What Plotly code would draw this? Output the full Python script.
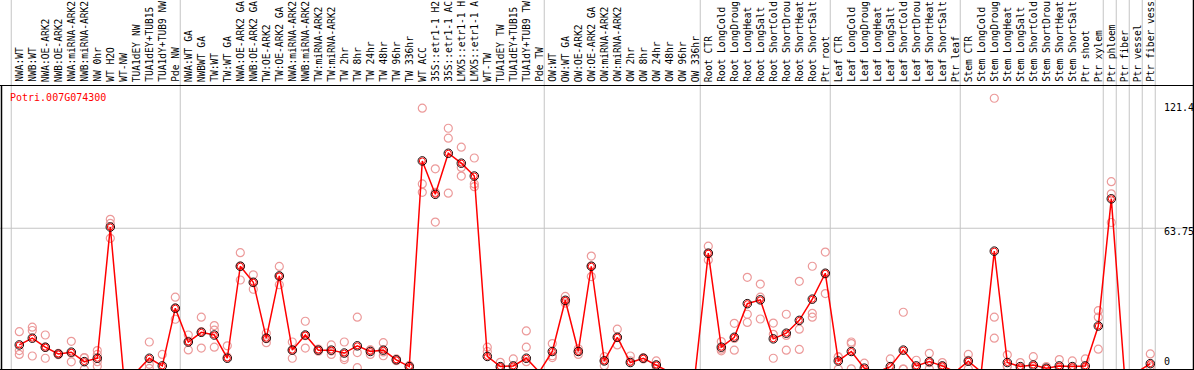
import plotly.graph_objects as go

categories = [
    "NWA:WT", "NWB:WT", "NWA:OE-ARK2", "NWB:OE-ARK2", "NWA:miRNA-ARK2", "NWB:miRNA-ARK2",
    "NW 0hr", "WT H2O", "WT-NW", "TUA1dEY NW", "TUA1dEY+TUB15", "TUA1dY+TUB9 NW", "Pde NW",
    "NWA:WT GA", "NWBWT GA", "TW:WT", "TW:WT GA", "NWA:OE-ARK2 GA", "NWB:OE-ARK2 GA",
    "TW:OE-ARK2", "TW:OE-ARK2 GA", "NWA:miRNA-ARK2", "NWB:miRNA-ARK2", "TW:miRNA-ARK2",
    "TW:miRNA-ARK2", "TW 2hr", "TW 8hr", "TW 24hr", "TW 48hr", "TW 96hr", "TW 336hr",
    "WT ACC", "35S::etr1-1 H2", "35S::etr1-1 AC", "LMX5::etr1-1 H", "LMX5::etr1-1 A",
    "WT-TW", "TUA1dEY TW", "TUA1dEY+TUB15", "TUA1dY+TUB9 TW", "Pde TW",
    "OW:WT", "OW:WT GA", "OW:OE-ARK2", "OW:OE-ARK2 GA", "OW:miRNA-ARK2", "OW:miRNA-ARK2",
    "OW 2hr", "OW 8hr", "OW 24hr", "OW 48hr", "OW 96hr", "OW 336hr",
    "Root CTR", "Root LongCold", "Root LongDroug", "Root LongHeat", "Root LongSalt",
    "Root ShortCold", "Root ShortDrou", "Root ShortHeat", "Root ShortSalt", "Ptr root",
    "Leaf CTR", "Leaf LongCold", "Leaf LongDroug", "Leaf LongHeat", "Leaf LongSalt",
    "Leaf ShortCold", "Leaf ShortDrou", "Leaf ShortHeat", "Leaf ShortSalt", "Ptr leaf",
    "Stem CTR", "Stem LongCold", "Stem LongDroug", "Stem LongHeat", "Stem LongSalt",
    "Stem ShortCold", "Stem ShortDrou", "Stem ShortHeat", "Stem ShortSalt", "Ptr shoot",
    "Ptr xylem", "Ptr phloem", "Ptr fiber", "Ptr vessel", "Ptr fiber vess",
]

mean_values = [
    12.0, 15.0, 11.0, 8.0, 8.8, 4.6, 6.1, 64.3, 0, 0,
    6.1, 2.7, 28.3, 13.3, 17.6, 16.4, 6.1, 46.9, 39.8, 15.0,
    42.6, 9.7, 16.4, 9.7, 9.7, 8.4, 11.6, 9.1, 9.7, 5.4,
    2.4, 93.6, 78.8, 97.0, 92.6, 86.9, 6.9, 2.4, 2.7, 6.1,
    0, 9.1, 31.8, 9.1, 46.9, 4.9, 15.4, 4.2, 6.1, 3.1,
    0, 0, 0, 52.7, 11.0, 15.4, 30.3, 32.0, 14.7, 17.2,
    22.9, 32.3, 43.8, 4.9, 9.1, 1.7, 0, 2.4, 9.7, 2.7,
    4.6, 2.7, 0, 4.8, 0, 53.6, 4.2, 2.4, 3.1, 1.7,
    2.7, 2.4, 2.7, 20.4, 76.8, 0, 0, 3.7,
]

replicates = [
    [17.9, 9.5, 7.8], [19.9, 18.4, 7.1], [16.4, 10.9, 6.1], [7.7, 8.0, 8.3],
    [13.6, 4.5, 8.3], [6.4, 1.2, 6.2], [9.5, 7.8, 4.6, 2.5], [67.7, 59.3, 65.9],
    [0, 0, 0], [0, 0, 0], [13.3, 3.4, 1.6], [7.8, 0.3, 0],
    [33.2, 23.4, 28.3], [16.4, 9.8, 13.7], [24.3, 10.6, 17.9], [20.6, 18.6, 11.0],
    [11.6, 0, 6.7], [52.9, 40.8, 47.0], [43.1, 36.7, 39.6], [17.2, 13.0, 14.8],
    [46.8, 38.7, 42.3], [13.3, 6.1, 9.7], [22.5, 10.6, 16.1], [9.2, 9.7, 10.2],
    [12.0, 7.8, 9.3], [13.3, 5.5, 6.4], [24.3, 8.6, 1.9], [9.8, 7.8, 9.7],
    [13.0, 7.2, 8.9], [5.0, 5.8, 5.4], [1.8, 2.9, 2.5], [117.0, 83.4, 79.7],
    [90.1, 79.7, 66.5], [108.1, 103.7, 79.3], [99.7, 90.7, 86.9], [94.9, 83.4, 82.2],
    [11.0, 9.1, 0.6], [4.3, 1.9, 1.0], [5.8, 1.5, 0.8], [18.2, 11.0, 4.6, 0, 0, 0],
    [0, 0, 0], [12.6, 7.2, 6.4], [33.5, 31.4, 30.5], [10.3, 7.8, 9.2],
    [51.4, 42.3, 47.0], [6.8, 2.8, 5.1], [19.0, 12.0, 15.2], [7.1, 0.5, 5.0],
    [5.8, 6.3, 6.2], [4.9, 3.1, 1.3], [0, 0, 0], [0, 0, 0],
    [0, 0, 0], [55.8, 49.7, 52.6], [13.5, 9.4, 10.1], [21.6, 9.7, 14.9],
    [42.0, 25.6, 22.0], [39.0, 33.2, 23.5], [21.7, 16.7, 6.1], [25.6, 16.2, 9.7],
    [40.2, 19.0, 10.0], [46.9, 26.0, 24.3], [53.2, 34.8, 43.4], [6.7, 1.3, 6.7],
    [13.3, 1.4, 12.6], [3.9, 0.6, 0.6], [0, 0, 0], [5.8, 0.7, 0.7],
    [26.5, 1.3, 1.3], [5.2, 1.5, 1.4], [8.3, 1.4, 4.1], [4.2, 1.4, 2.5],
    [0, 0, 0], [7.8, 1.4, 5.2], [0, 0, 0], [121.4, 24.3, 15.0],
    [7.6, 2.5, 2.5], [4.2, 1.5, 1.5], [6.8, 2.4, 0.1], [2.4, 1.5, 1.2],
    [5.5, 1.4, 1.2], [4.9, 1.5, 0.8], [5.8, 1.5, 0.8], [27.2, 24.3, 10.1],
    [84.4, 79.0, 66.3], [0, 0, 0], [0, 0, 0], [8.0, 2.4, 0.7],
]

group_starts = [0, 13, 41, 53, 63, 73, 84, 85, 86, 87, 88]
y_tick_labels = ["121.4", "63.75", "0"]
y_tick_values = [121.4, 63.75, 0]
gene_id = "Potri.007G074300"

W, H = 1194, 370
TOP = 85  # pixel top of plot area
X0 = -19.3 / 13.0
X1 = X0 + W / 13.0
Y_ZERO_PX = 372.0
Y_SCALE = 2.255
Y_LO = (Y_ZERO_PX - H) / Y_SCALE
Y_HI = (Y_ZERO_PX - TOP) / Y_SCALE


def py(p):
    return (H - p) / (H - TOP)


def px(p):
    return p / W


xs = list(range(len(categories)))

rep_x, rep_y = [], []
for i, reps in enumerate(replicates):
    for v in reps:
        rep_x.append(i)
        rep_y.append(v)

fig = go.Figure()
fig.add_trace(go.Scatter(
    x=rep_x, y=rep_y, mode="markers",
    marker=dict(symbol="circle-open", size=8, color="#ec9a9a", line=dict(width=1.2)),
    cliponaxis=False, showlegend=False, hoverinfo="skip"))
fig.add_trace(go.Scatter(
    x=xs, y=mean_values, mode="lines",
    line=dict(color="#ff0000", width=1.5),
    cliponaxis=False, showlegend=False))
fig.add_trace(go.Scatter(
    x=xs, y=mean_values, mode="markers",
    marker=dict(symbol="circle-open", size=8.5, color="#1a0000", line=dict(width=1.0)),
    cliponaxis=False, showlegend=False))
fig.add_trace(go.Scatter(
    x=xs, y=mean_values, mode="markers",
    marker=dict(symbol="circle-open", size=6, color="#ff0000", line=dict(width=1)),
    cliponaxis=False, showlegend=False))

shapes = []
for g in group_starts:
    shapes.append(dict(type="line", xref="x", yref="paper", x0=g - 0.62, x1=g - 0.62,
                       y0=py(H), y1=py(0), line=dict(color="#c4c4c4", width=1), layer="below"))
shapes.append(dict(type="line", xref="paper", yref="y", x0=0, x1=1, y0=y_tick_values[1],
                   y1=y_tick_values[1], line=dict(color="#c4c4c4", width=1), layer="below"))
shapes.append(dict(type="line", xref="paper", yref="paper", x0=0, x1=1, y0=py(85.5), y1=py(85.5),
                   line=dict(color="black", width=1)))
shapes.append(dict(type="line", xref="paper", yref="paper", x0=0, x1=1, y0=py(369.5), y1=py(369.5),
                   line=dict(color="black", width=1)))
shapes.append(dict(type="line", xref="paper", yref="paper", x0=px(1.5), x1=px(1.5), y0=py(85.5), y1=py(370),
                   line=dict(color="black", width=1.5)))
shapes.append(dict(type="line", xref="paper", yref="paper", x0=px(1193.5), x1=px(1193.5), y0=py(0), y1=py(370),
                   line=dict(color="black", width=1.5)))

annotations = []
mono = "DejaVu Sans Mono"
for i, lab in enumerate(categories):
    annotations.append(dict(x=i, xref="x", y=py(83), yref="paper", text=lab, textangle=-90,
                            showarrow=False, xanchor="center", yanchor="bottom", borderpad=0,
                            font=dict(family=mono, size=9.6, color="black")))
annotations.append(dict(x=px(9), xref="paper", y=py(97), yref="paper", text=gene_id,
                        showarrow=False, xanchor="left", yanchor="middle", borderpad=0,
                        font=dict(family=mono, size=10, color="#ff0000")))
label_centers = [107.5, 231.5, 361.5]
for lab, c in zip(y_tick_labels, label_centers):
    annotations.append(dict(x=px(1163), xref="paper", y=py(c), yref="paper", text=lab,
                            showarrow=False, xanchor="left", yanchor="middle", borderpad=0,
                            font=dict(family=mono, size=10, color="black")))

fig.update_layout(
    width=W, height=H,
    margin=dict(l=0, r=0, t=TOP, b=0),
    paper_bgcolor="white", plot_bgcolor="white",
    xaxis=dict(range=[X0, X1], visible=False, showgrid=False, zeroline=False),
    yaxis=dict(range=[Y_LO, Y_HI], visible=False, showgrid=False, zeroline=False),
    shapes=shapes, annotations=annotations, showlegend=False,
)

fig.write_html(
    "out.html",
    config={"displayModeBar": False},
    post_script="document.body.style.margin='0px';document.body.style.overflow='hidden';",
)
